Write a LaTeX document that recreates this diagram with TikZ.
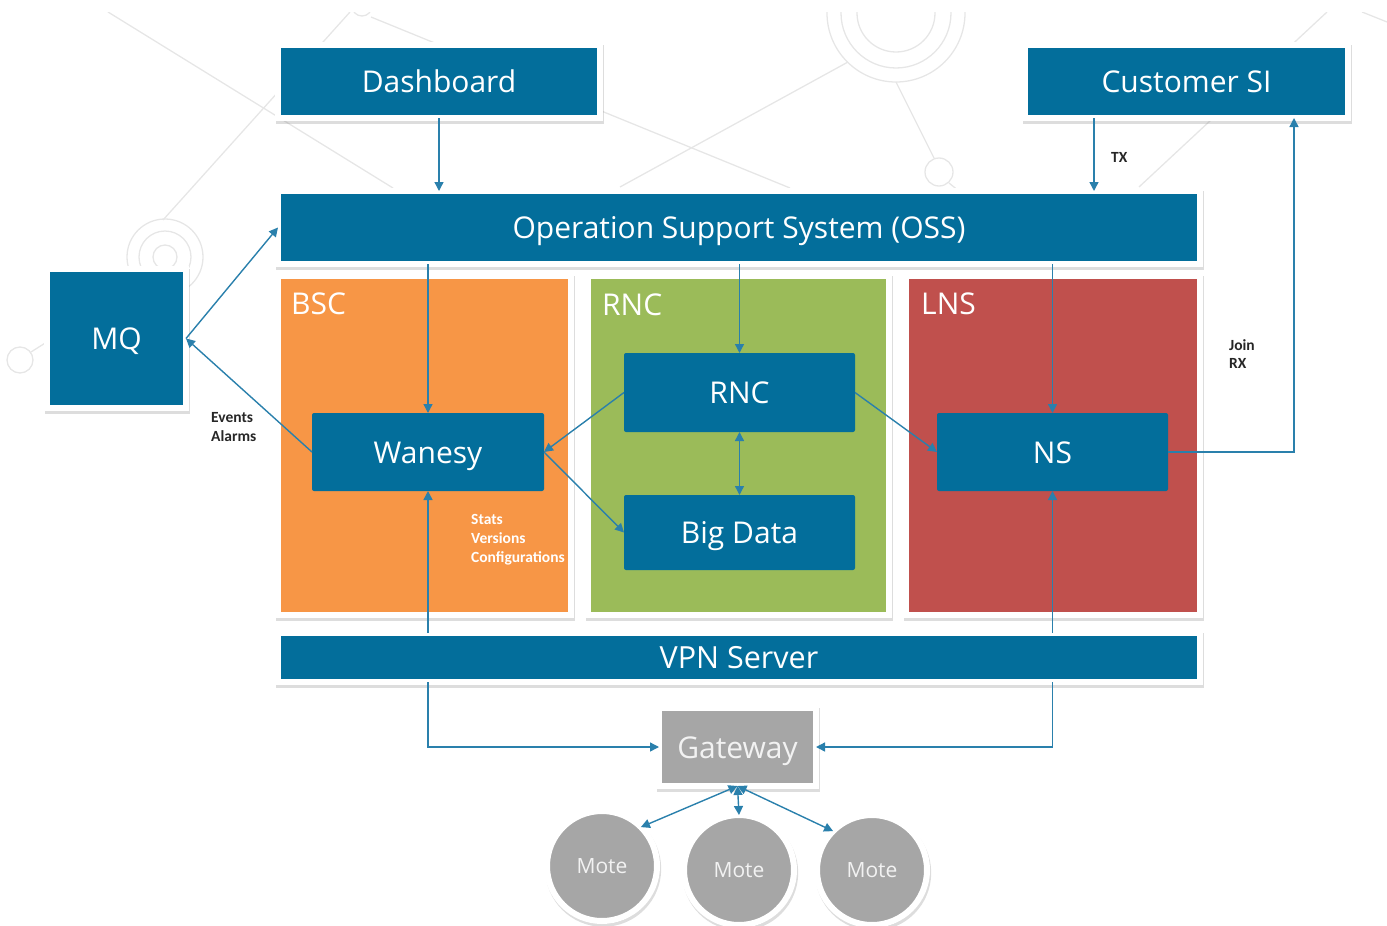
\documentclass[tikz,border=0pt]{standalone}
\usepackage{fontspec}
\setmainfont{Open Sans}
\newfontfamily\lblfont{Carlito}
\usetikzlibrary{arrows.meta,shadows}

\definecolor{boxblue}{HTML}{036E9B}
\definecolor{arrowblue}{HTML}{2A80AC}
\definecolor{bscorange}{HTML}{F79646}
\definecolor{rncgreen}{HTML}{9BBB59}
\definecolor{lnsred}{HTML}{C0504D}
\definecolor{gwgray}{HTML}{A6A6A6}
\definecolor{bgline}{HTML}{E6E6E6}
\definecolor{lighttext}{HTML}{F2F2F2}

\tikzset{
  framed/.style={draw=white, line width=6pt, inner sep=0pt, outer sep=0pt,
    drop shadow={shadow xshift=1.2pt, shadow yshift=-2.8pt, opacity=0.22,
      fill=black!60, draw=black!60, line width=6pt}},
  bigfont/.style={font=\fontsize{30}{35}\selectfont, text height=22pt, text depth=0pt},
  bigbox/.style={framed, fill=boxblue, text=white, bigfont},
  panel/.style={framed, rectangle},
  panellbl/.style={text=white, bigfont, inner sep=0pt, anchor=west},
  innerbox/.style={rectangle, fill=boxblue, text=white, rounded corners=2pt,
    inner sep=0pt, outer sep=0pt, bigfont},
  gwbox/.style={framed, fill=gwgray, text=lighttext, bigfont},
  mote/.style={framed, circle, fill=gwgray, text=lighttext, minimum size=110pt,
    font=\fontsize{21}{25}\selectfont, text height=15.5pt, text depth=0pt},
  tipa/.tip={Triangle[length=9pt,width=9pt]},
  conn/.style={draw=arrowblue, line width=1.4pt, -tipa},
  biconn/.style={draw=arrowblue, line width=1.4pt, tipa-tipa},
  lbl/.style={font=\lblfont\bfseries\fontsize{15.5}{18.8}\selectfont, align=left,
    inner sep=0pt, text=black!85},
  wlbl/.style={lbl, text=white},
  bgdeco/.style={draw=bgline, line width=1.3pt}
}

\begin{document}
\begin{tikzpicture}[x=1pt,y=-1pt]
\useasboundingbox (0,0) rectangle (1387,926);

% ---- faint background decoration ----
\begin{scope}
\clip (0,12) rectangle (1387,926);
\draw[bgdeco] (108,12) -- (393,188);
\draw[bgdeco] (163,220) -- (350,12);
\draw[bgdeco] (165,257) circle (38);
\draw[bgdeco] (165,257) circle (26);
\draw[bgdeco] (165,257) circle (12);
\draw[bgdeco] (362,6) circle (10);
\draw[bgdeco] (371,17) -- (790,188);
\draw[bgdeco] (620,187) -- (848,62);
\draw[bgdeco] (896,13) circle (69);
\draw[bgdeco] (896,13) circle (55);
\draw[bgdeco] (896,13) circle (39);
\draw[bgdeco] (896,82) -- (934,158);
\draw[bgdeco] (939,172) circle (14);
\draw[bgdeco] (949,183) -- (965,196);
\draw[bgdeco] (1139,187) -- (1327,12);
\draw[bgdeco] (1362,12) -- (1387,22);
\draw[bgdeco] (20,360) circle (13);
\draw[bgdeco] (31,352) -- (50,340);
\end{scope}

% ---- framed boxes ----
\node[bigbox, minimum width=322, minimum height=73] (dash) at (439,81.5) {Dashboard};
\node[bigbox, minimum width=323, minimum height=73] (csi) at (1186.5,81.5) {Customer SI};
\node[bigbox, minimum width=922, minimum height=73] (oss) at (739,227.5) {Operation Support System (OSS)};
\node[bigbox, minimum width=139, minimum height=139] (mq) at (116.5,338.5) {MQ};

\node[panel, fill=bscorange, minimum width=293, minimum height=339] (bsc) at (424.5,445.5) {};
\node[panel, fill=rncgreen, minimum width=301, minimum height=339] (rncp) at (738.5,445.5) {};
\node[panel, fill=lnsred, minimum width=294, minimum height=339] (lns) at (1053,445.5) {};
\node[panellbl] (bscl) at (291,303) {BSC};
\node[panellbl] (rncl) at (602,304) {RNC};
\node[panellbl] (lnsl) at (921,303) {LNS};

\node[bigbox, minimum width=922, minimum height=49, font=\fontsize{30.5}{35}\selectfont] (vpn) at (739,657.5) {VPN Server};

\node[innerbox, minimum width=232, minimum height=78] (wan) at (428,452) {Wanesy};
\node[innerbox, minimum width=231, minimum height=79] (rnc) at (739.5,392.5) {RNC};
\node[innerbox, minimum width=231, minimum height=75] (bd) at (739.5,532.5) {Big Data};
\node[innerbox, minimum width=231, minimum height=78] (ns) at (1052.5,452) {NS};

\node[gwbox, minimum width=157, minimum height=78] (gw) at (737.5,747) {Gateway};
\node[mote] (m1) at (602,866) {Mote};
\node[mote] (m2) at (739,870) {Mote};
\node[mote] (m3) at (872,870) {Mote};

% ---- connectors ----
\coordinate (txx) at (1094,0);
\coordinate (jx) at (1294,0);
\draw[conn] (dash.south) -- (dash.south |- oss.north);
\draw[conn] (csi.south -| txx) -- (oss.north -| txx);
\draw[conn] (ns.east) -| (csi.south -| jx);
\draw[conn] (wan.north |- oss.south) -- (wan.north);
\draw[conn] (rnc.north |- oss.south) -- (rnc.north);
\draw[conn] (ns.north |- oss.south) -- (ns.north);
\draw[conn] (mq.east) -- (oss.west);
\draw[conn] (wan.west) -- (mq.east);
\draw[conn] (rnc.west) -- (wan.east);
\draw[conn] (wan.east) -- (bd.west);
\draw[conn] (rnc.east) -- (ns.west);
\draw[biconn] (rnc.south) -- (bd.north);
\draw[conn] (wan.south |- vpn.north) -- (wan.south);
\draw[conn] (ns.south |- vpn.north) -- (ns.south);
\draw[conn] (vpn.south -| wan.south) |- (gw.west);
\draw[conn] (vpn.south -| ns.south) |- (gw.east);
\draw[biconn] (gw.south) -- (m1.north east);
\draw[biconn] (gw.south) -- (m2.north);
\draw[biconn] (gw.south) -- (m3.north west);

% ---- labels ----
\node[lbl, anchor=west] (txl) at (1111,157) {TX};
\node[lbl, anchor=west] (joinl) at (1229,354) {Join\\RX};
\node[lbl, anchor=west] (evl) at (211,427) {Events\\Alarms};
\node[wlbl, anchor=west] (statl) at (471,540) {Stats\\Versions\\Configurations};
\end{tikzpicture}
\end{document}
